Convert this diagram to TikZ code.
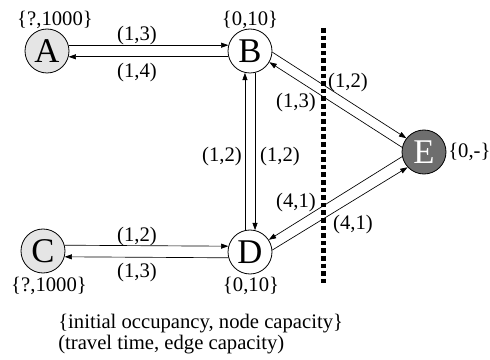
\documentclass[tikz,border=0pt]{standalone}
\usepackage{fontspec}
\setmainfont{Liberation Serif}
\usetikzlibrary{arrows.meta}

\begin{document}
\begin{tikzpicture}[x=0.75pt, y=-0.75pt,
    station/.style={circle, draw, line width=0.6pt, minimum size=33pt, inner sep=0pt, font=\fontsize{26}{26}\selectfont},
    lbl/.style={inner sep=0pt, font=\fontsize{15.5}{15.5}\selectfont},
    arr/.style={line width=0.5pt, -{Triangle[length=5.5pt, width=3.8pt]}}]
    \useasboundingbox (0,0) rectangle (490,360);

    % Nodos
    \node[station, fill=black!10] (A) at (47,51) {A};
    \node[station, fill=white] (B) at (250,51) {B};
    \node[station, fill=black!10] (C) at (43,251) {C};
    \node[station, fill=white] (D) at (250,252) {D};
    \node[station, fill=black!57, text=white] (E) at (424,152) {E};

    % Ocupacion y capacidad
    \node[lbl] (capA) at (55,20) {\{?,1000\}};
    \node[lbl] (capB) at (250,20) {\{0,10\}};
    \node[lbl] (capC) at (49,286) {\{?,1000\}};
    \node[lbl] (capD) at (251,286) {\{0,10\}};
    \node[lbl, anchor=west] (capE) at (448,152) {\{0,-\}};

    % Corte
    \draw[line width=3.75pt, dash pattern=on 3.4pt off 2.3pt] (323,28) -- (323,283);

    % A y B
    \draw[arr] (A.15) -- (B.165);
    \draw[arr] (B.195) -- (A.-15);
    \node[lbl] at (137,36) {(1,3)};
    \node[lbl] at (137,73) {(1,4)};

    % C y D
    \draw[arr] (C.15) -- (D.165);
    \draw[arr] (D.195) -- (C.-15);
    \node[lbl] at (137,237) {(1,2)};
    \node[lbl] at (137,273) {(1,3)};

    % B y D
    \draw[arr] (D.103) -- (B.257);
    \draw[arr] (B.283) -- (D.77);
    \node[lbl] at (222,157) {(1,2)};
    \node[lbl] at (280,157) {(1,2)};

    % B y E
    \draw[arr] (B.-3) -- (E.142);
    \draw[arr] (E.168) -- (B.-30);
    \node[lbl] at (348,83) {(1,2)};
    \node[lbl] at (296,103) {(1,3)};

    % D y E
    \draw[arr] (E.192) -- (D.33);
    \draw[arr] (D.5) -- (E.223);
    \node[lbl] at (296,203) {(4,1)};
    \node[lbl] at (353,225) {(4,1)};

    % Leyenda
    \node[lbl, anchor=west, align=left, font=\fontsize{15.5}{13.5}\selectfont] (legend) at (58,334)
        {\{initial occupancy, node capacity\}\\(travel time, edge capacity)};
\end{tikzpicture}
\end{document}
